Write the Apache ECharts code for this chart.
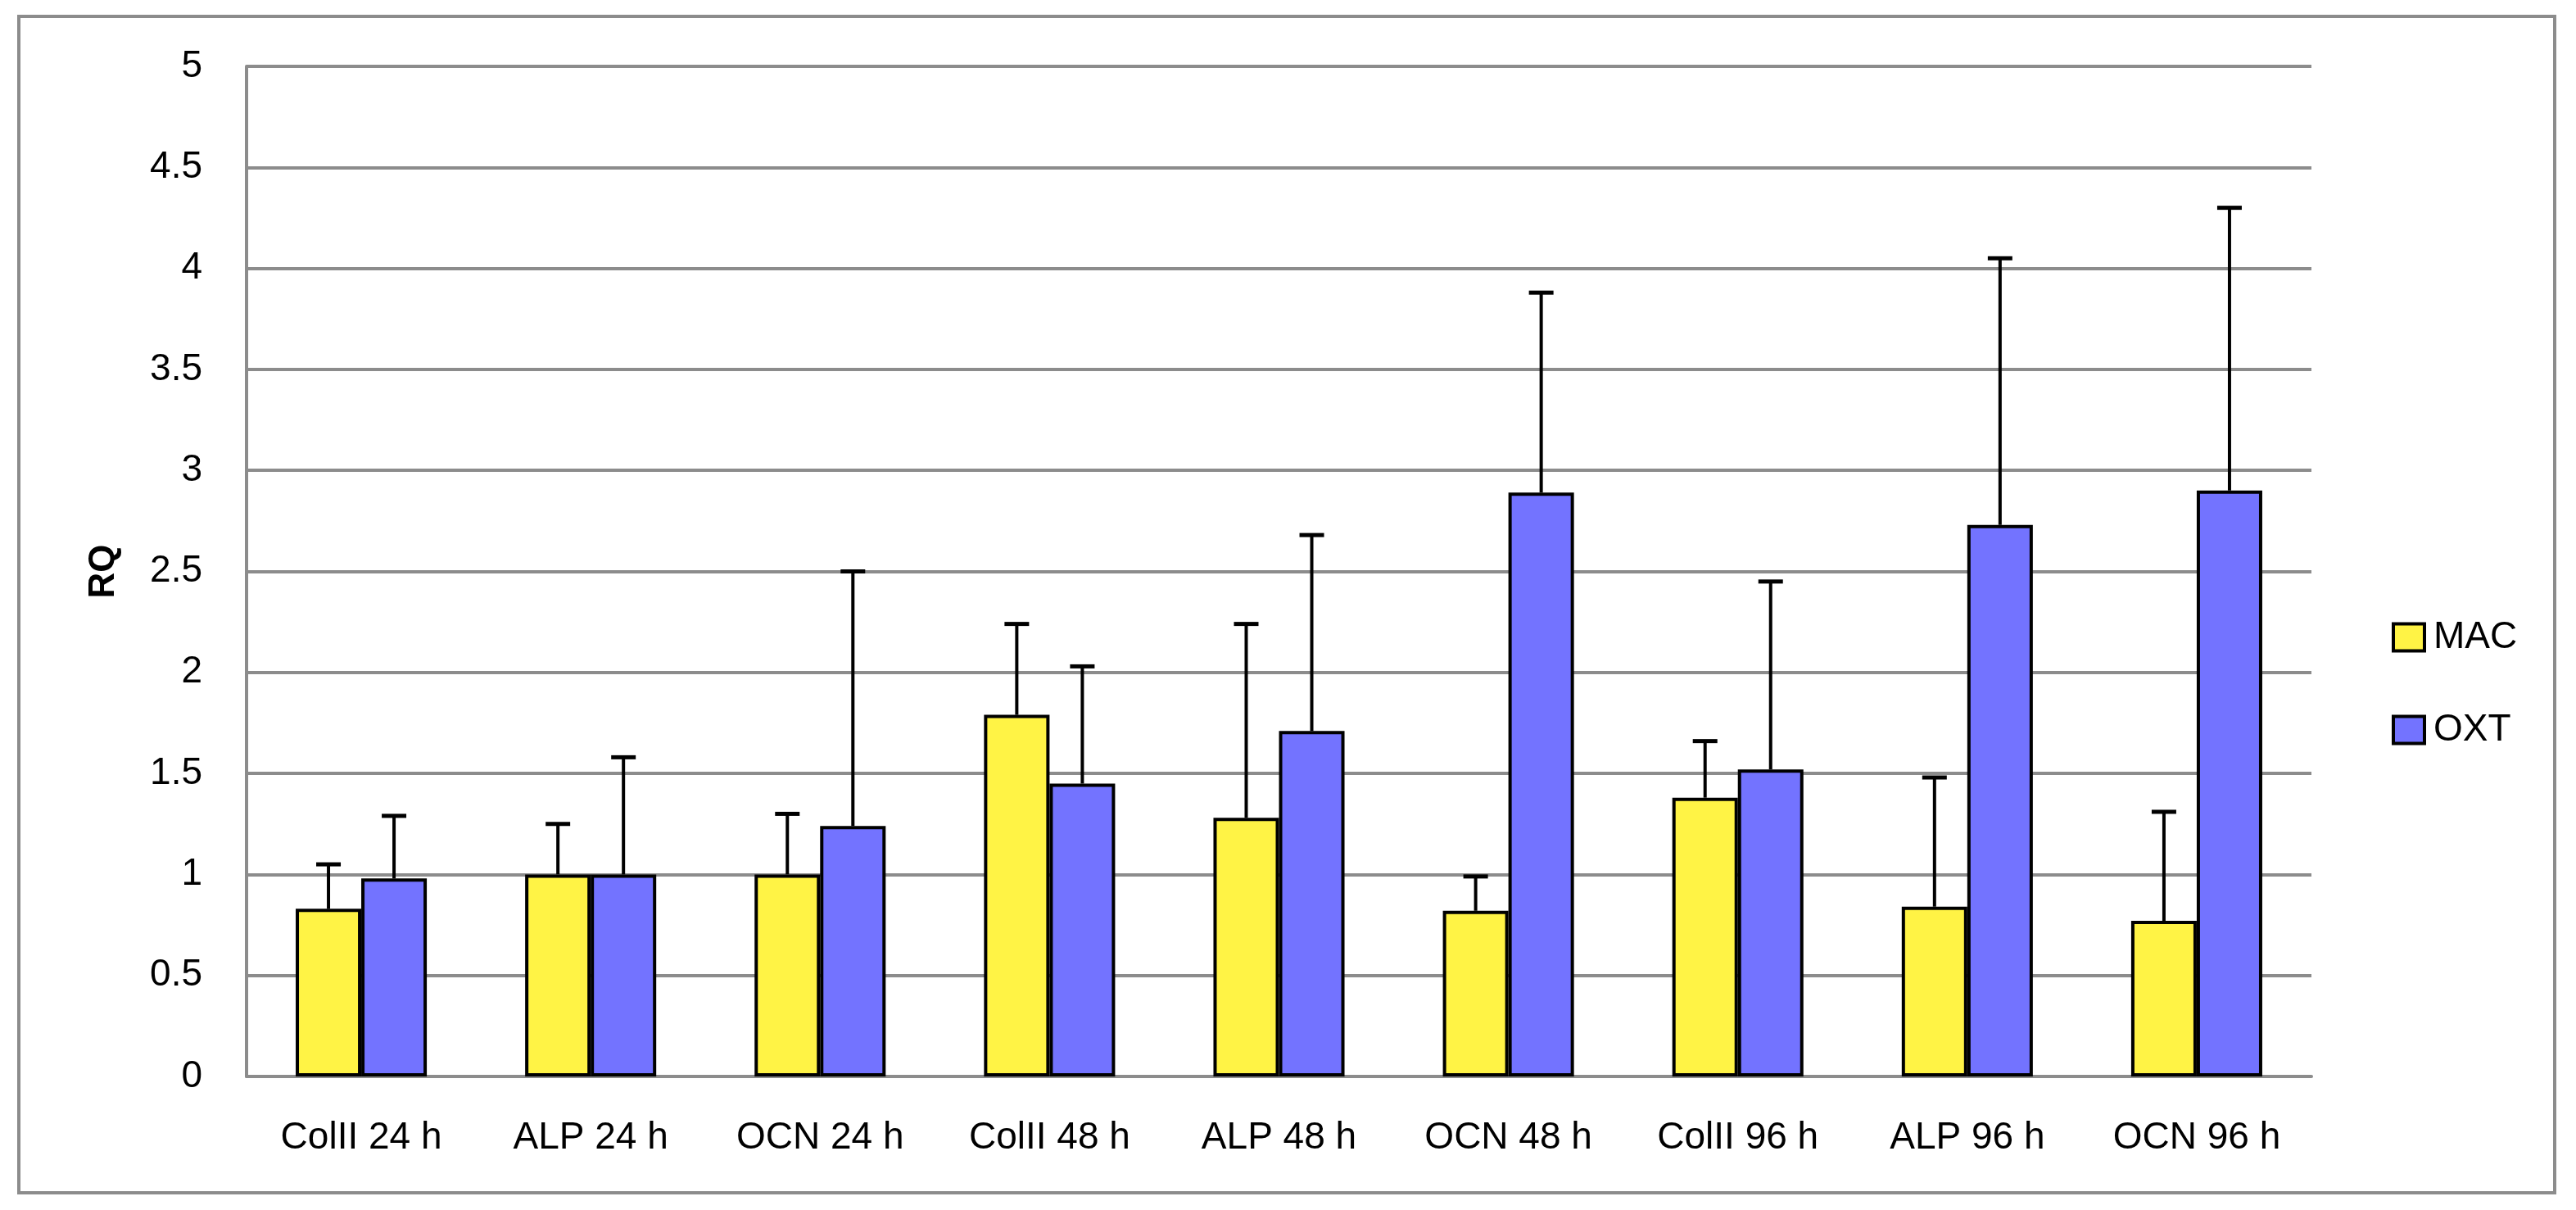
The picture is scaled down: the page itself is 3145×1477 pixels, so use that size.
<!DOCTYPE html>
<html>
<head>
<meta charset="utf-8">
<script src="https://cdn.jsdelivr.net/npm/echarts@6/dist/echarts.min.js"></script>
<style>
html,body{margin:0;padding:0;background:#fff;}
#chart{width:3145px;height:1477px;}
</style>
</head>
<body>
<div id="chart"></div>
<script>
// ---- data ----
var categories = ['ColII 24 h','ALP 24 h','OCN 24 h','ColII 48 h','ALP 48 h','OCN 48 h','ColII 96 h','ALP 96 h','OCN 96 h'];
var seriesNames = ['MAC','OXT'];
var macValues = [0.83, 1.00, 1.00, 1.79, 1.28, 0.82, 1.38, 0.84, 0.77];
var macErrTop = [1.05, 1.25, 1.30, 2.24, 2.24, 0.99, 1.66, 1.48, 1.31];
var oxtValues = [0.98, 1.00, 1.24, 1.45, 1.71, 2.89, 1.52, 2.73, 2.90];
var oxtErrTop = [1.29, 1.58, 2.50, 2.03, 2.68, 3.88, 2.45, 4.05, 4.30];
var yTicks = [0, 0.5, 1, 1.5, 2, 2.5, 3, 3.5, 4, 4.5, 5];

var BAR_FRAC = 0.2857;
var FONT = 'Liberation Sans';

function errData(vals, tops){
  return vals.map(function(v,i){ return [i, v, tops[i]]; });
}
function errRender(side){
  return function(params, api){
    var i = api.value(0);
    var band = api.size([1,0])[0];
    var off = band * BAR_FRAC / 2 * side;
    var base = api.coord([i, api.value(1)]);
    var top = api.coord([i, api.value(2)]);
    var x = base[0] + off;
    var capHalf = 15;
    return {
      type: 'group',
      children: [
        {type:'line', shape:{x1:x, y1:base[1], x2:x, y2:top[1]}, style:{stroke:'#000', lineWidth:4}},
        {type:'line', shape:{x1:x-capHalf, y1:top[1], x2:x+capHalf, y2:top[1]}, style:{stroke:'#000', lineWidth:5}}
      ]
    };
  };
}

var chart = echarts.init(document.getElementById('chart'), null, {renderer:'canvas'});
chart.setOption({
  backgroundColor:'#ffffff',
  animation:false,
  textStyle:{fontFamily:FONT},
  graphic:[{
    type:'rect', z:-10,
    shape:{x:23, y:20, width:3096, height:1436},
    style:{fill:'none', stroke:'#8c8c8c', lineWidth:4}
  }],
  grid:{left:301, right:323, top:81, bottom:163, containLabel:false},
  legend:{
    orient:'vertical', left:2915, top:750,
    icon:'rect',
    itemWidth:38, itemHeight:33, itemGap:67,
    data:seriesNames,
    textStyle:{fontFamily:FONT, fontSize:46, color:'#000', padding:[0,0,0,6]},
    itemStyle:{borderColor:'#000', borderWidth:4}
  },
  xAxis:{
    type:'category', data:categories,
    axisLine:{show:true, lineStyle:{color:'#8c8c8c', width:4}},
    axisTick:{show:false},
    axisLabel:{fontFamily:FONT, fontSize:46, color:'#000', margin:52, interval:0}
  },
  yAxis:{
    type:'value', min:yTicks[0], max:yTicks[yTicks.length-1], interval:0.5,
    name:'RQ', nameLocation:'middle', nameGap:152, nameRotate:90,
    nameTextStyle:{fontFamily:FONT, fontSize:44, fontWeight:'bold', color:'#000'},
    axisLine:{show:true, lineStyle:{color:'#8c8c8c', width:4}},
    axisTick:{show:false},
    splitLine:{show:true, lineStyle:{color:'#8c8c8c', width:4}},
    axisLabel:{fontFamily:FONT, fontSize:46, color:'#000', margin:54}
  },
  series:[
    {name:seriesNames[0], type:'bar', data:macValues, barWidth:(BAR_FRAC*100)+'%', barGap:'0%',
     itemStyle:{color:'#fff345', borderColor:'#000', borderWidth:4}},
    {name:seriesNames[1], type:'bar', data:oxtValues, barWidth:(BAR_FRAC*100)+'%', barGap:'0%',
     itemStyle:{color:'#7373ff', borderColor:'#000', borderWidth:4}},
    {type:'custom', data:errData(macValues, macErrTop), renderItem:errRender(-1), z:5, silent:true,
     encode:{x:0, y:[1,2]}},
    {type:'custom', data:errData(oxtValues, oxtErrTop), renderItem:errRender(1), z:5, silent:true,
     encode:{x:0, y:[1,2]}}
  ]
});
</script>
</body>
</html>
